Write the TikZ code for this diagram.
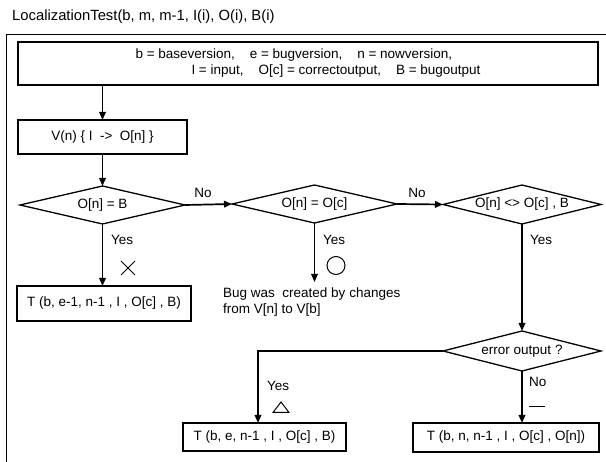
\documentclass[tikz,border=0pt]{standalone}
\usepackage{fontspec}
\setmainfont{Liberation Sans}
\usetikzlibrary{shapes.geometric,arrows.meta}
\begin{document}
\begin{tikzpicture}[x=1pt,y=-1pt,
  txt/.style={font=\fontsize{13.5}{16}\selectfont},
  box/.style={draw, line width=1.3pt, inner sep=0pt, outer sep=0pt, txt},
  dia/.style={draw, diamond, line width=1.3pt, inner sep=0pt, outer sep=0pt, txt},
  arr/.style={line width=1.7pt, -{Triangle[length=8pt,width=6.5pt]}},
  lab/.style={inner sep=0pt, txt},
  symb/.style={line width=1pt}
]
\useasboundingbox (0,0) rectangle (606,462);
% title and frame
\node[anchor=west, inner sep=0pt, font=\fontsize{14.8}{18}\selectfont] (title) at (12,17)
  {LocalizationTest(b, m, m-1, I(i), O(i), B(i)};
\coordinate (fa) at (6,462);
\coordinate (fb) at (6,34);
\coordinate (fc) at (606,34);
\draw[line width=0.9pt] (fa) -- (fb) -- (fc);
% boxes
\node[box, minimum width=580pt, minimum height=43pt, align=left] (top) at (308,63.5)
  {b = baseversion,\hspace{1.1em}e = bugversion,\hspace{1.1em}n = nowversion,\\
   \hspace*{56pt}I = input,\hspace{1.1em}O[c] = correctoutput,\hspace{1.1em}B = bugoutput};
\node[box, minimum width=169pt, minimum height=34pt] (v) at (102.5,137) {V(n) \{ I\ \ ->\ \ O[n] \}};
\node[dia, minimum width=165pt, minimum height=38pt] (d1) at (102.5,205) {\makebox[0pt]{O[n] = B}};
\node[dia, minimum width=165pt, minimum height=38pt] (d2) at (314.5,204) {\makebox[0pt]{O[n] = O[c]}};
\node[dia, minimum width=158pt, minimum height=39pt] (d3) at (522,204.5) {\makebox[0pt]{O[n] <> O[c] , B}};
\node[dia, minimum width=158pt, minimum height=40pt] (d4) at (522,351) {\makebox[0pt]{error output ?}};
\node[box, minimum width=174pt, minimum height=35pt] (b1) at (104,303.5) {T (b, e-1, n-1 , I , O[c] , B)};
\node[box, minimum width=163pt, minimum height=28pt] (b2) at (264.5,437) {T (b, e, n-1 , I , O[c] , B)};
\node[box, minimum width=186pt, minimum height=29pt] (b3) at (506,437.5) {T (b, n, n-1 , I , O[c] , O[n])};
\coordinate (bugend) at (314.5,282);
% connectors
\draw[arr] (top.south -| v.north) -- (v.north);
\draw[arr] (v.south) -- (d1.north);
\draw[arr] (d1.east) -- (d2.west);
\draw[arr] (d2.east) -- (d3.west);
\draw[arr] (d1.south) -- (d1.south |- b1.north);
\draw[arr] (d2.south) -- (bugend);
\draw[arr] (d3.south) -- (d4.north);
\draw[arr] (d4.west) -| ([xshift=-6.5pt]b2.north);
\draw[arr] (d4.south) -- (d4.south |- b3.north);
% labels
\node[lab] (no1) at (203,193) {No};
\node[lab] (no2) at (417,193) {No};
\node[lab, anchor=west] (yes1) at (111,240) {Yes};
\node[lab, anchor=west] (yes2) at (323,240) {Yes};
\node[lab, anchor=west] (yes3) at (530,240) {Yes};
\node[lab, anchor=west] (yes4) at (267,386) {Yes};
\node[lab, anchor=west] (no4) at (529,382) {No};
\node[lab, anchor=west, align=left] (bug) at (223,302)
  {Bug was\ \ created by changes\\from V[n] to V[b]};
% symbols
\draw[symb] (121,261) -- (135,275) (121,275) -- (135,261);
\draw[symb] (336,265.5) circle[radius=9pt];
\draw[symb] (273,412.5) -- (289,412.5) -- (281,402) -- cycle;
\draw[symb] (529,407) -- (545,407);
\end{tikzpicture}
\end{document}
